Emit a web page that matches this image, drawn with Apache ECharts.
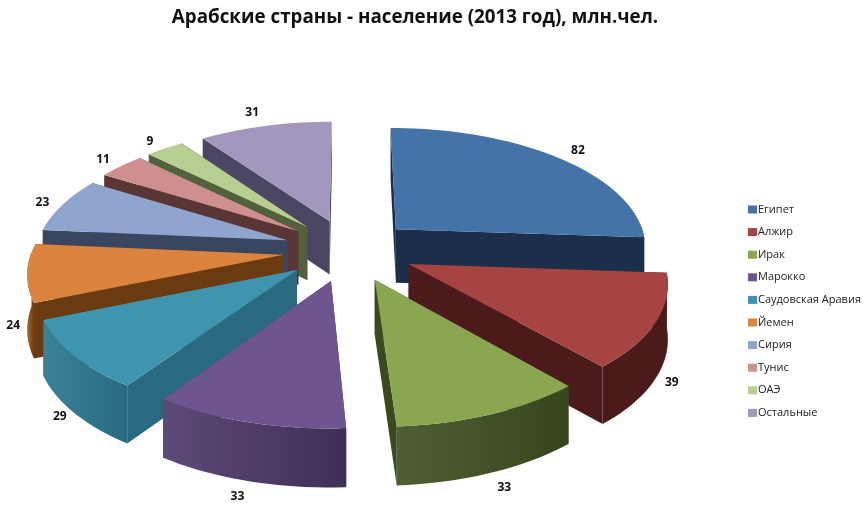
<!DOCTYPE html>
<html><head><meta charset="utf-8">
<style>html,body{margin:0;padding:0;background:#fff}#c{width:866px;height:520px}</style>
<script src="https://cdn.jsdelivr.net/npm/echarts@6/dist/echarts.min.js"></script>
</head><body><div id="c"></div>
<script>
const countries = ['Египет','Алжир','Ирак','Марокко','Саудовская Аравия','Йемен','Сирия','Тунис','ОАЭ','Остальные'];
const population = [82,39,33,33,29,24,23,11,9,31];
const topColors = ['#4473A8','#A64343','#8AA650','#6F5590','#3F95B0','#DB843D','#8FA5CE','#CE8F8F','#B8CE92','#A497BD'];
const radialWallColors = ['#1C2F4A','#4B1B1B','#3A4A1E','#4A3A60','#2A6A80','#6A3A10','#3A4560','#5A3535','#52613C','#4A4560'];
const outerWallLight = ['#1C2F4A','#4B1B1B','#505F33','#5D4A78','#3A8298','#A96A30','#3A4560','#5A3535','#52613C','#4A4560'];
const outerWallDark = ['#1C2F4A','#4B1B1B','#36451C','#3F2F55','#2A6A80','#6A3A10','#3A4560','#5A3535','#52613C','#4A4560'];
const labelNudge = [[20,-7],[16,60],[13,73],[-11,74],[-14,61],[-14,53],[-20,-2],[-18,-6],[-15,-7],[-13,-13]];

const CX = 349, CY = 250, SX = 252, SY = 119.5, PERSP = 0.13, DEPTH = 54, EXPLODE = 0.26;
const total = population.reduce((a, b) => a + b, 0);
const deg = Math.PI / 180;

function project(X, Y, down) {
  const w = 1 + PERSP * Y;
  return [CX + X * SX / w, CY - Y * SY / w + (down ? DEPTH / Math.sqrt(w) : 0)];
}

function renderSlice(i) {
  return function (params, api) {
    const value = api.value(0), before = api.value(1);
    const a0 = before / total * 360, a1 = (before + value) / total * 360, mid = (a0 + a1) / 2;
    const ox = EXPLODE * Math.sin(mid * deg), oy = EXPLODE * Math.cos(mid * deg);
    const rim = [], front = [];
    const steps = Math.max(4, Math.ceil((a1 - a0) / 2));
    for (let s = 0; s <= steps; s++) {
      const t = (a0 + (a1 - a0) * s / steps) * deg;
      const p = [ox + Math.sin(t), oy + Math.cos(t)];
      rim.push(p);
      if (Math.cos(t) < 0.05) front.push(p);
    }
    const top = rim.map(p => project(p[0], p[1], false));
    const bottom = rim.map(p => project(p[0], p[1], true));
    const frontTop = front.map(p => project(p[0], p[1], false));
    const frontBottom = front.map(p => project(p[0], p[1], true));
    const apexT = project(ox, oy, false), apexB = project(ox, oy, true);
    const last = rim.length - 1;
    const poly = (pts, fill) => ({ type: 'polygon', shape: { points: pts }, style: { fill: fill } });
    const anchor = project(ox + Math.sin(mid * deg), oy + Math.cos(mid * deg), false);
    const children = [
      poly([apexT, top[0], bottom[0], apexB], radialWallColors[i]),
      poly([apexT, top[last], bottom[last], apexB], radialWallColors[i])
    ];
    if (front.length > 1) {
      children.push(poly(frontTop.concat(frontBottom.slice().reverse()), new echarts.graphic.LinearGradient(0, 0, 1, 0, [
        { offset: 0, color: outerWallLight[i] }, { offset: 1, color: outerWallDark[i] }
      ])));
    }
    children.push(poly([apexT].concat(top), topColors[i]));
    children.push({ type: 'text', z2: 100, style: {
      text: String(value),
      x: anchor[0] + labelNudge[i][0], y: anchor[1] + labelNudge[i][1],
      fill: '#111', font: 'bold 12px "Open Sans"', textAlign: 'center', textVerticalAlign: 'middle'
    } });
    return { type: 'group', children: children };
  };
}

let running = 0;
const series = countries.map((name, i) => {
  const before = running;
  running += population[i];
  const mid = (before + population[i] / 2) / total * 360;
  return {
    type: 'custom', name: name, coordinateSystem: 'none', silent: true, animation: false,
    z: 10 - 5 * Math.cos(mid * deg),
    itemStyle: { color: topColors[i] },
    renderItem: renderSlice(i),
    data: [[population[i], before]]
  };
});

const chart = echarts.init(document.getElementById('c'), null, { renderer: 'canvas' });
chart.setOption({
  animation: false,
  backgroundColor: '#fff',
  title: {
    text: 'Арабские страны - население (2013 год), млн.чел.',
    left: 410, top: 3, textAlign: 'center',
    textStyle: { fontFamily: 'Open Sans', fontWeight: 'bold', fontSize: 18.8, color: '#111' }
  },
  legend: {
    orient: 'vertical', left: 743, top: 199, itemWidth: 9, itemHeight: 8, itemGap: 11.6,
    icon: 'rect', data: countries, selectedMode: false,
    textStyle: { fontFamily: 'Open Sans', fontSize: 11, color: '#222', padding: [0, 0, 0, -4] }
  },
  series: series
});
</script></body></html>
